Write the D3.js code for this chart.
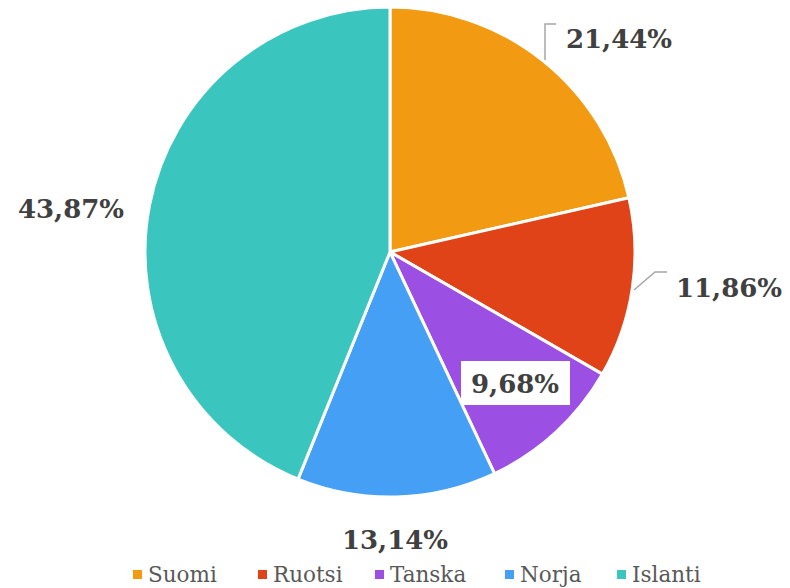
<!DOCTYPE html>
<html><head><meta charset="utf-8">
<script src="https://cdn.jsdelivr.net/npm/d3@7"></script>
<style>body{margin:0;background:#fff}</style>
</head><body>
<svg id="c" width="790" height="588"></svg>
<script>
const categories = ["Suomi", "Ruotsi", "Tanska", "Norja", "Islanti"];
const values = [21.44, 11.86, 9.68, 13.14, 43.87];
const labels = ["21,44%", "11,86%", "9,68%", "13,14%", "43,87%"];
const colors = ["#F29B12", "#E04318", "#9B4FE3", "#45A0F5", "#3AC6BF"];

const svg = d3.select("#c");
const cx = 390, cy = 252, R = 245;
const g = svg.append("g").attr("transform", `translate(${cx},${cy})`);
const data = categories.map((c, i) => ({c, v: values[i], l: labels[i], col: colors[i]}));
const pie = d3.pie().value(d => d.v).sort(null);
const arc = d3.arc().innerRadius(0).outerRadius(R);
const arcs = pie(data);
g.selectAll("path").data(arcs).join("path")
  .attr("d", arc).attr("fill", d => d.data.col)
  .attr("stroke", "#fff").attr("stroke-width", 3).attr("stroke-linejoin", "round");

const font = "'DejaVu Serif', serif";
const labelPos = [
  {x: 619, y: 39},
  {x: 729, y: 288},
  {x: 515, y: 384, box: true},
  {x: 395, y: 540},
  {x: 71, y: 209}
];
const lines = [
  [[545, 60], [545, 24], [556, 24]],
  [[634, 290], [655, 272], [667, 272]]
];
svg.selectAll("path.lead").data(lines).join("path").attr("class", "lead")
  .attr("d", d => d3.line()(d)).attr("fill", "none").attr("stroke", "#A6A6A6").attr("stroke-width", 1.5);

labelPos.forEach((p, i) => {
  if (p.box) {
    svg.append("rect").attr("x", 461).attr("y", 361).attr("width", 109).attr("height", 44).attr("fill", "#fff");
  }
  svg.append("text").attr("x", p.x).attr("y", p.y).attr("text-anchor", "middle")
    .attr("dominant-baseline", "central")
    .attr("font-family", font).attr("font-weight", "bold").attr("font-size", 26)
    .attr("fill", "#404040").text(labels[i]);
});

const lg = svg.append("g");
const itemX = [133, 258, 375, 505, 617];
categories.forEach((c, i) => {
  lg.append("rect").attr("x", itemX[i]).attr("y", 570).attr("width", 9).attr("height", 9).attr("fill", colors[i]);
  lg.append("text").attr("x", itemX[i] + 15).attr("y", 582)
    .attr("font-family", font).attr("font-size", 21.5).attr("fill", "#595959").text(c);
});
</script>
</body></html>
